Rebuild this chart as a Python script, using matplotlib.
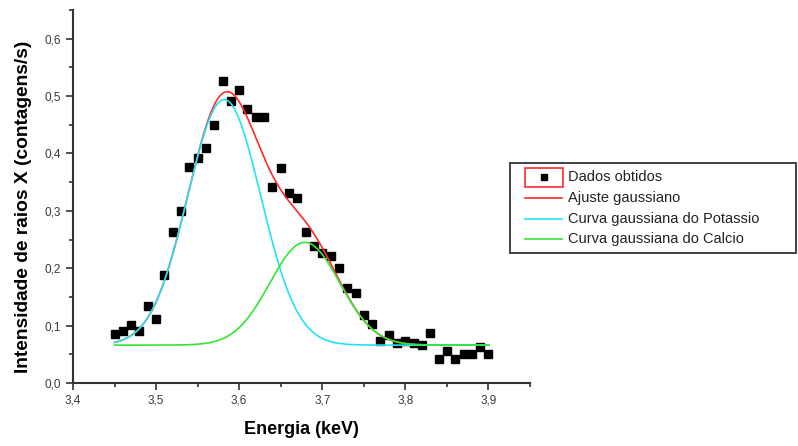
import numpy as np
import matplotlib.pyplot as plt
from matplotlib.ticker import MultipleLocator, FuncFormatter
from matplotlib.patches import Rectangle
from matplotlib.lines import Line2D

plt.rcParams['font.family'] = ['Liberation Sans', 'DejaVu Sans']

# measured points (keV, counts/s)
energia = [3.45, 3.46, 3.47, 3.48, 3.49, 3.50, 3.51, 3.52, 3.53, 3.54,
           3.55, 3.56, 3.57, 3.58, 3.59, 3.60, 3.61, 3.62, 3.63, 3.64,
           3.65, 3.66, 3.67, 3.68, 3.69, 3.70, 3.71, 3.72, 3.73, 3.74,
           3.75, 3.76, 3.77, 3.78, 3.79, 3.80, 3.81, 3.82, 3.83, 3.84,
           3.85, 3.86, 3.87, 3.88, 3.89, 3.90]
intensidade = [0.086, 0.090, 0.101, 0.091, 0.134, 0.111, 0.189, 0.264, 0.299, 0.377,
               0.392, 0.410, 0.450, 0.526, 0.492, 0.511, 0.478, 0.463, 0.463, 0.342,
               0.375, 0.331, 0.323, 0.264, 0.239, 0.226, 0.222, 0.201, 0.165, 0.156,
               0.118, 0.102, 0.074, 0.084, 0.070, 0.074, 0.069, 0.066, 0.087, 0.042,
               0.056, 0.042, 0.051, 0.051, 0.062, 0.051]

# gaussian fit parameters
base = 0.066
k_centro, k_altura, k_sigma = 3.582, 0.428, 0.044
ca_centro, ca_altura, ca_sigma = 3.679, 0.179, 0.042

legend_labels = ["Dados obtidos", "Ajuste gaussiano",
                 "Curva gaussiana do Potassio", "Curva gaussiana do Calcio"]

RED = '#ff2a2a'
CYAN = '#22e4f4'
GREEN = '#33e633'

xf = np.linspace(energia[0], energia[-1], 500)
curva_k = base + k_altura * np.exp(-(xf - k_centro) ** 2 / (2 * k_sigma ** 2))
curva_ca = base + ca_altura * np.exp(-(xf - ca_centro) ** 2 / (2 * ca_sigma ** 2))
ajuste = curva_k + curva_ca - base

fig = plt.figure(figsize=(7.98, 4.46), dpi=100)
ax = fig.add_axes([73 / 798, 1 - 383 / 446, (530 - 73) / 798, (383 - 10) / 446])

ax.plot(energia, intensidade, 's', color='black', ms=6, zorder=2)
ax.plot(xf, ajuste, color=RED, lw=1.2, zorder=3)
ax.plot(xf, curva_k, color=CYAN, lw=1.2, zorder=4)
ax.plot(xf, curva_ca, color=GREEN, lw=1.2, zorder=5)

ax.set_xlim(3.4, 3.95)
ax.set_ylim(0, 0.65)
ax.xaxis.set_major_locator(MultipleLocator(0.1))
ax.xaxis.set_minor_locator(MultipleLocator(0.05))
ax.yaxis.set_major_locator(MultipleLocator(0.1))
ax.yaxis.set_minor_locator(MultipleLocator(0.05))
ax.xaxis.set_major_formatter(FuncFormatter(lambda v, p: ('%.1f' % v).replace('.', ',') if v < 3.91 else ''))
ax.yaxis.set_major_formatter(FuncFormatter(lambda v, p: ('%.1f' % v).replace('.', ',') if v < 0.61 else ''))
ax.tick_params(which='major', length=5, width=1.2, labelsize=8.5, labelcolor='#3a3a3a', color='#333333')
ax.tick_params(which='minor', length=3, width=1.2, color='#333333')
for s in ['top', 'right']:
    ax.spines[s].set_visible(False)
for s in ['left', 'bottom']:
    ax.spines[s].set_linewidth(1.5)
    ax.spines[s].set_color('#333333')

ax.set_xlabel("Energia (keV)", fontsize=13, fontweight='bold', labelpad=10)
ax.set_ylabel("Intensidade de raios X (contagens/s)", fontsize=13.8, fontweight='bold')
ax.yaxis.set_label_coords(-0.089, 0.472)

# legend drawn by hand in figure pixels
def fx(px):
    return px / 798

def fy(py):
    return 1 - py / 446

fig.patches.append(Rectangle((fx(510), fy(253)), fx(796) - fx(510), fy(163) - fy(253),
                             transform=fig.transFigure, fill=False, ec='#333333', lw=1.3))
rows = [177, 198, 219, 239]
fig.lines.append(Line2D([fx(544)], [fy(rows[0])], marker='s', color='black', ms=5,
                        transform=fig.transFigure))
fig.patches.append(Rectangle((fx(525), fy(187)), fx(563) - fx(525), fy(168) - fy(187),
                             transform=fig.transFigure, fill=False, ec=RED, lw=1.2))
for py, c in zip(rows[1:], [RED, CYAN, GREEN]):
    fig.lines.append(Line2D([fx(525), fx(562)], [fy(py), fy(py)], color=c, lw=1.2,
                            transform=fig.transFigure))
for py, lab in zip(rows, legend_labels):
    fig.text(fx(568), fy(py), lab, fontsize=10.5, va='center', ha='left', color='#222222')

fig.savefig("out.png", dpi=100)
